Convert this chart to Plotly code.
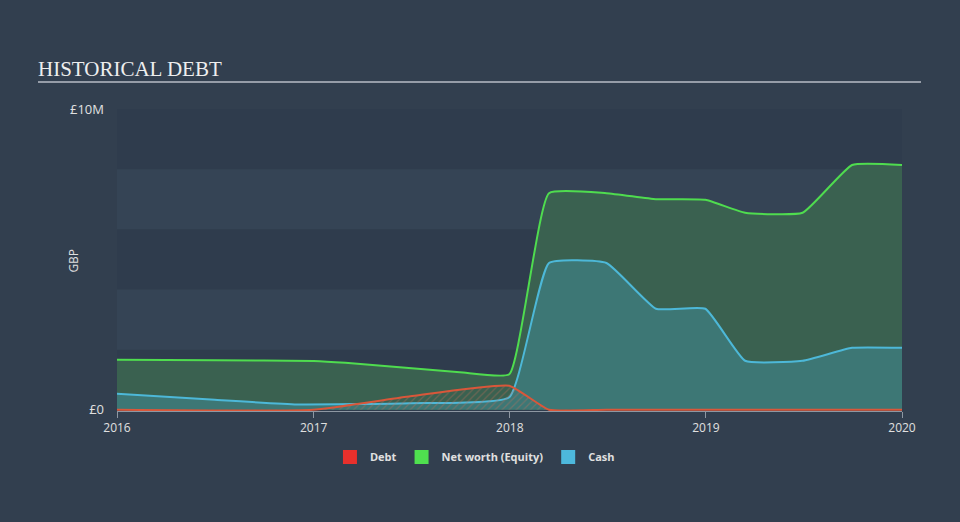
import plotly.graph_objects as go

# ---- data (GBP millions) ----
nw_dates = ["2016-01-01", "2016-07-01", "2017-01-01", "2017-03-01", "2017-09-30", "2017-12-31",
            "2018-03-15", "2018-06-30", "2018-09-30", "2018-12-31", "2019-03-15", "2019-06-30",
            "2019-09-30", "2020-01-01"]
nw_vals = [1.66, 1.65, 1.62, 1.56, 1.25, 1.18, 7.2, 7.2, 7.0, 6.98, 6.55, 6.55, 8.14, 8.14]

cash_dates = ["2016-01-01", "2016-07-01", "2016-12-01", "2017-06-30", "2017-12-31",
              "2018-03-15", "2018-06-30", "2018-09-30", "2018-12-31", "2019-03-15", "2019-06-30",
              "2019-09-30", "2020-01-01"]
cash_vals = [0.53, 0.33, 0.18, 0.22, 0.42, 4.88, 4.88, 3.36, 3.36, 1.63, 1.63, 2.06, 2.06]

debt_dates = ["2016-01-01", "2016-12-31", "2017-06-30", "2017-12-31", "2018-03-15", "2018-06-30",
              "2019-06-30", "2020-01-01"]
debt_vals = [0.0, 0.0, 0.45, 0.8, 0.0, 0.0, 0.0, 0.0]

year_ticks = ["2016-01-01", "2017-01-01", "2018-01-01", "2019-01-01", "2020-01-01"]
year_labels = ["2016", "2017", "2018", "2019", "2020"]

BG = "#323f4f"
FONT = "Open Sans, DejaVu Sans, sans-serif"
SM = 0.4
fig = go.Figure()

fig.add_trace(go.Scatter(x=nw_dates, y=nw_vals, mode="lines", fill="tozeroy",
                         line=dict(color="#4fdc4f", width=2, shape="spline", smoothing=SM),
                         fillcolor="#3a6150", showlegend=False, hoverinfo="skip"))
fig.add_trace(go.Scatter(x=cash_dates, y=cash_vals, mode="lines", fill="tozeroy",
                         line=dict(color="#4db8d8", width=2, shape="spline", smoothing=SM),
                         fillcolor="rgba(62,122,120,0.92)", showlegend=False, hoverinfo="skip"))
fig.add_trace(go.Scatter(x=debt_dates, y=debt_vals, mode="lines", fill="tozeroy",
                         line=dict(color="#d9573a", width=2, shape="spline", smoothing=SM),
                         fillcolor="rgba(0,0,0,0)",
                         fillpattern=dict(shape="/", fgcolor="rgba(200,110,90,0.7)",
                                          bgcolor="rgba(0,0,0,0)", size=5, solidity=0.25),
                         showlegend=False, hoverinfo="skip"))

# legend entries
for name, col in [("Debt", "#e8302c"), ("Net worth (Equity)", "#4fe04f"), ("Cash", "#4db8dc")]:
    fig.add_trace(go.Scatter(x=[None], y=[None], mode="markers", name=name,
                             marker=dict(symbol="square", size=14, color=col)))

# background bands
shapes = []
for y0, y1 in [(-0.04, 2), (4, 6), (8, 10)]:
    shapes.append(dict(type="rect", xref="paper", yref="y", x0=0, x1=1, y0=y0, y1=y1,
                       fillcolor="#2f3c4d", line=dict(width=0), layer="below"))
for y0, y1 in [(2, 4), (6, 8)]:
    shapes.append(dict(type="rect", xref="paper", yref="y", x0=0, x1=1, y0=y0, y1=y1,
                       fillcolor="#354455", line=dict(width=0), layer="below"))
shapes.append(dict(type="line", xref="paper", yref="paper", x0=(38 - 117) / 785, x1=(921 - 117) / 785,
                   y0=(410 - 82) / 301, y1=(410 - 82) / 301, line=dict(color="#b8bec6", width=1.5)))

fig.update_layout(
    width=960, height=522,
    paper_bgcolor=BG, plot_bgcolor=BG,
    margin=dict(l=117, r=58, t=109, b=111),
    shapes=shapes,
    title=dict(text="HISTORICAL DEBT", xref="container", yref="container",
               x=38 / 960, xanchor="left", y=1 - 69 / 522, yanchor="middle",
               font=dict(family="Liberation Serif, DejaVu Serif, serif", size=21, color="#eeeeee")),
    annotations=[dict(text="GBP", xref="paper", yref="paper", x=(74 - 117) / 785, y=0.498,
                      xanchor="center", yanchor="middle", textangle=-90, showarrow=False,
                      font=dict(family=FONT, size=12, color="#e0e0e0"))],
    xaxis=dict(type="date", range=["2016-01-01", "2020-01-01"], tickvals=year_ticks, ticktext=year_labels,
               showgrid=False, zeroline=False, showline=True, linecolor="#8e97a2", linewidth=1,
               ticks="outside", ticklen=6, tickcolor="#8e97a2", layer="below traces",
               tickfont=dict(family=FONT, size=12, color="#e0e0e0")),
    yaxis=dict(range=[-0.04, 10], tickvals=[0, 10], ticktext=["£0", "£10M"], showgrid=False, zeroline=False,
               showline=False, ticks="", ticklabelstandoff=12,
               tickfont=dict(family=FONT, size=13, color="#e0e0e0")),
    legend=dict(orientation="h", x=0.456, xanchor="center", y=-0.152, yanchor="middle",
                font=dict(family=FONT, size=11, color="#e0e0e0", weight="bold"),
                bgcolor="rgba(0,0,0,0)", itemclick=False),
    showlegend=True,
)

fig.write_html("out.html")
